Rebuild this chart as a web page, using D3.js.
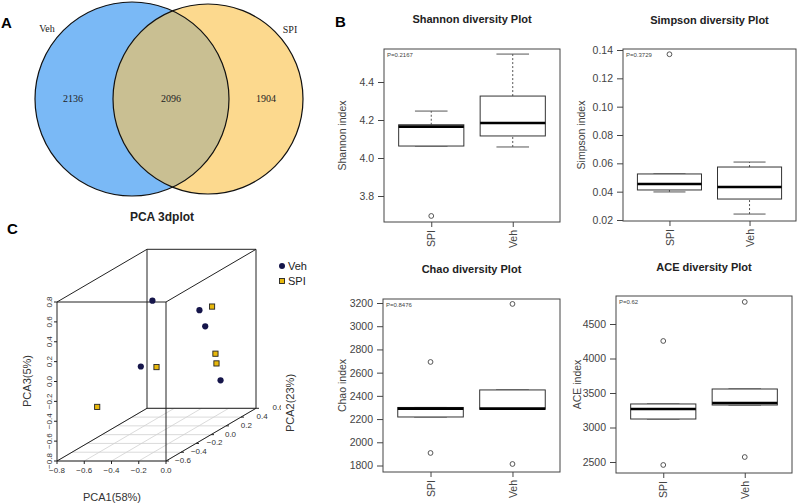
<!DOCTYPE html>
<html>
<head>
<meta charset="utf-8">
<title></title>
<script src="https://cdn.jsdelivr.net/npm/d3@7"></script>
<style>
body{margin:0;background:#fff;}
svg{display:block;font-family:"Liberation Sans",Arial,sans-serif;}
</style>
</head>
<body>
<svg id="svg1" width="797" height="503"></svg>
<script>
// venn
var vennNames=['Veh','SPI'];
var vennCounts=[2136,2096,1904];

// pca 3d (PCA1, PCA2, PCA3)
var vehPC1=[-0.54,-0.25,-0.18,-0.46,-0.15];
var vehPC2=[0.20,0.30,0.25,-0.10,0.40];
var vehPC3=[0.46,0.32,0.18,-0.07,-0.43];
var spiPC1=[-0.24,-0.16,-0.18,-0.40,-0.56];
var spiPC2=[0.45,0.35,0.40,0.00,-0.50];
var spiPC3=[0.29,-0.14,-0.26,-0.12,-0.30];
var pc1Ticks=[-0.8,-0.6,-0.4,-0.2,0.0];
var pc2Ticks=[-0.6,-0.4,-0.2,0.0,0.2,0.4,0.6];
var pc3Ticks=[-0.8,-0.6,-0.4,-0.2,0.0,0.2,0.4,0.6,0.8];

// boxplots: [lower whisker, q1, median, q3, upper whisker]
var groups=['SPI','Veh'];
var shannonBox=[[4.063,4.063,4.165,4.175,4.247],[4.058,4.116,4.184,4.326,4.547]];
var shannonOut=[[3.695],[]];
var shannonTicks=[3.8,4.0,4.2,4.4];
var simpsonBox=[[0.0398,0.0412,0.0454,0.0525,0.0525],[0.0242,0.0348,0.0433,0.0574,0.0609]];
var simpsonOut=[[0.137],[]];
var simpsonTicks=[0.02,0.04,0.06,0.08,0.10,0.12,0.14];
var chaoBox=[[2218,2218,2290,2300,2300],[2285,2285,2290,2451,2451]];
var chaoOut=[[2692,1908],[3192,1813]];
var chaoTicks=[1800,2000,2200,2400,2600,2800,3000,3200];
var aceBox=[[3123,3123,3268,3341,3341],[3326,3326,3355,3558,3558]];
var aceOut=[[4254,2457],[4820,2572]];
var aceTicks=[2500,3000,3500,4000,4500];
var pValues=['P=0.2167','P=0.3729','P=0.8476','P=0.62'];

var svg=d3.select('#svg1');

// panel letters
svg.append('text').attr('x',1).attr('y',28).text('A').attr('font-size',15).attr('font-weight','bold');
svg.append('text').attr('x',335).attr('y',27).text('B').attr('font-size',15).attr('font-weight','bold');
svg.append('text').attr('x',7).attr('y',234).text('C').attr('font-size',15).attr('font-weight','bold');

//1. venn
var vg=svg.append('g');
var c1={x:132,y:99,r:97}, c2={x:208,y:99,r:95};
vg.append('clipPath').attr('id','clipVeh').append('circle').attr('cx',c1.x).attr('cy',c1.y).attr('r',c1.r);
vg.append('circle').attr('cx',c1.x).attr('cy',c1.y).attr('r',c1.r).attr('fill','#7ab9f6');
vg.append('circle').attr('cx',c2.x).attr('cy',c2.y).attr('r',c2.r).attr('fill','#fcd98e');
vg.append('circle').attr('cx',c2.x).attr('cy',c2.y).attr('r',c2.r).attr('fill','#c9bf92').attr('clip-path','url(#clipVeh)');
[c1,c2].forEach(function(c){
  vg.append('circle').attr('cx',c.x).attr('cy',c.y).attr('r',c.r).attr('fill','none').attr('stroke','#111').attr('stroke-width',1.2);
});
var serif='"Liberation Serif","DejaVu Serif",serif';
vg.append('text').attr('x',47).attr('y',32).attr('text-anchor','middle').attr('font-family',serif).attr('font-size',10).attr('fill','#222').text(vennNames[0]);
vg.append('text').attr('x',290).attr('y',33).attr('text-anchor','middle').attr('font-family',serif).attr('font-size',10).attr('fill','#222').text(vennNames[1]);
var vennX=[73,171,266];
vennCounts.forEach(function(v,i){
  vg.append('text').attr('x',vennX[i]).attr('y',102).attr('text-anchor','middle').attr('font-family',serif).attr('font-size',10).attr('fill','#222').text(v);
});

//2. pca 3d
var pg=svg.append('g');
pg.append('text').attr('x',162).attr('y',221).attr('text-anchor','middle').attr('font-size',12).attr('font-weight','bold').attr('fill','#222').text('PCA 3dplot');

var x1=d3.scaleLinear().domain([-0.8,0]).range([57,166]);
var z3=d3.scaleLinear().domain([-0.8,0.8]).range([461,302]);
var dep=d3.scaleLinear().domain([-0.6,0.6]).range([0,1]);
var boxDX=90, boxDY=-52.7;
function proj(a,b,c){
  var t=dep(b);
  return [x1(a)+t*boxDX, z3(c)+t*boxDY];
}
function seg(g,p,q,col,w){
  g.append('line').attr('x1',p[0]).attr('y1',p[1]).attr('x2',q[0]).attr('y2',q[1])
  .attr('stroke',col).attr('stroke-width',w);
}
// floor grid
pc2Ticks.forEach(function(v){seg(pg,proj(-0.8,v,-0.8),proj(0,v,-0.8),'#d0d0d0',0.8);});
pc1Ticks.forEach(function(u){seg(pg,proj(u,-0.6,-0.8),proj(u,0.6,-0.8),'#d0d0d0',0.8);});
// box
var xs=[-0.8,0], ys=[-0.6,0.6], zs=[-0.8,0.8];
ys.forEach(function(b){
  seg(pg,proj(xs[0],b,zs[0]),proj(xs[1],b,zs[0]),'#222',1);
  seg(pg,proj(xs[0],b,zs[1]),proj(xs[1],b,zs[1]),'#222',1);
  seg(pg,proj(xs[0],b,zs[0]),proj(xs[0],b,zs[1]),'#222',1);
  seg(pg,proj(xs[1],b,zs[0]),proj(xs[1],b,zs[1]),'#222',1);
});
xs.forEach(function(a){zs.forEach(function(c){seg(pg,proj(a,ys[0],c),proj(a,ys[1],c),'#222',1);});});
// ticks
var tf=d3.format('.1f');
pc1Ticks.forEach(function(u){
  var p=proj(u,-0.6,-0.8);
  seg(pg,p,[p[0],p[1]+3],'#222',1);
  pg.append('text').attr('x',p[0]).attr('y',p[1]+12).attr('text-anchor','middle').attr('font-size',8).attr('fill','#333').text(tf(u));
});
pc3Ticks.forEach(function(c){
  var p=proj(-0.8,-0.6,c);
  seg(pg,p,[p[0]-3,p[1]],'#222',1);
  pg.append('text').attr('transform','translate('+(p[0]-5)+','+p[1]+') rotate(-90)')
  .attr('text-anchor','middle').attr('font-size',8).attr('fill','#333').text(tf(c));
});
pg.append('clipPath').attr('id','clipPc2').append('rect').attr('x',160).attr('y',380).attr('width',121).attr('height',100);
var pc2g=pg.append('g').attr('clip-path','url(#clipPc2)');
pc2Ticks.forEach(function(v){
  var p=proj(0,v,-0.8);
  seg(pc2g,p,[p[0]+3,p[1]],'#222',1);
  pc2g.append('text').attr('x',p[0]+17+dep(v)*5).attr('y',p[1]+2).attr('text-anchor','middle').attr('font-size',8).attr('fill','#333').text(tf(v));
});
pg.append('text').attr('x',112).attr('y',501).attr('text-anchor','middle').attr('font-size',11).attr('fill','#333').text('PCA1(58%)');
pg.append('text').attr('transform','translate(31,381) rotate(-90)').attr('text-anchor','middle').attr('font-size',11).attr('fill','#333').text('PCA3(5%)');
pg.append('text').attr('transform','translate(294,403) rotate(-90)').attr('text-anchor','middle').attr('font-size',11).attr('fill','#333').text('PCA2(23%)');
// points
vehPC1.forEach(function(a,i){
  var p=proj(a,vehPC2[i],vehPC3[i]);
  pg.append('circle').attr('cx',p[0]).attr('cy',p[1]).attr('r',3.1).attr('fill','#15154a');
});
spiPC1.forEach(function(a,i){
  var p=proj(a,spiPC2[i],spiPC3[i]);
  pg.append('rect').attr('x',p[0]-2.6).attr('y',p[1]-2.6).attr('width',5.2).attr('height',5.2)
  .attr('fill','#e8b80c').attr('stroke','#222').attr('stroke-width',0.9);
});
// legend
pg.append('circle').attr('cx',282).attr('cy',266).attr('r',3).attr('fill','#15154a');
pg.append('text').attr('x',288).attr('y',270).attr('font-size',11).attr('fill','#222').text('Veh');
pg.append('rect').attr('x',279.5).attr('y',278.5).attr('width',5).attr('height',5).attr('fill','#e8b80c').attr('stroke','#222').attr('stroke-width',0.9);
pg.append('text').attr('x',288).attr('y',285).attr('font-size',11).attr('fill','#222').text('SPI');

//3. boxplots
function boxPlot(o){
  var g=svg.append('g');
  var y=d3.scaleLinear().domain([o.ticks[0],o.ticks[o.ticks.length-1]]).range(o.tickPx);
  var x=d3.scaleLinear().domain([0.42,2.58]).range([o.left,o.right]);
  var hw=x(1.4)-x(1), cw=x(1.2)-x(1);

  g.append('text').attr('x',(o.left+o.right)/2).attr('y',o.titleY).attr('text-anchor','middle')
  .attr('font-size',11).attr('font-weight','bold').attr('fill','#222').text(o.title);

  var ay=g.append('g').attr('transform','translate('+o.left+',0)')
  .call(d3.axisLeft(y).tickValues(o.ticks).tickSize(6).tickPadding(4).tickFormat(o.fmt));
  ay.select('.domain').remove();
  ay.selectAll('line').attr('stroke','#444');
  ay.selectAll('text').attr('font-size',10.5).attr('fill','#444').attr('font-family',null);
  ay.attr('font-family',null);

  var ax=g.append('g').attr('transform','translate(0,'+o.bottom+')')
  .call(d3.axisBottom(x).tickValues([1,2]).tickSize(5).tickFormat(function(d){return groups[d-1];}));
  ax.select('.domain').remove();
  ax.attr('font-family',null);
  ax.selectAll('line').attr('stroke','#444');
  ax.selectAll('text').attr('font-size',10.5).attr('fill','#444').attr('font-family',null)
  .attr('y',0).attr('x',-8).attr('dy','0.35em').attr('transform','rotate(-90)').style('text-anchor','end');

  g.append('text').attr('transform','translate('+o.ylabX+','+((o.top+o.bottom)/2)+') rotate(-90)')
  .attr('text-anchor','middle').attr('font-size',10.5).attr('fill','#444').text(o.ylab);

  o.stats.forEach(function(s,i){
    var cx=x(i+1);
    // whiskers
    [[s[0],s[1]],[s[3],s[4]]].forEach(function(w){
      if(w[0]!==w[1]){
        g.append('line').attr('x1',cx).attr('x2',cx).attr('y1',y(w[0])).attr('y2',y(w[1]))
        .attr('stroke','#555').attr('stroke-dasharray','2,2');
      }
    });
    [s[0],s[4]].forEach(function(v){
      g.append('line').attr('x1',cx-cw).attr('x2',cx+cw).attr('y1',y(v)).attr('y2',y(v)).attr('stroke','#555');
    });
    g.append('rect').attr('x',cx-hw).attr('width',2*hw).attr('y',y(s[3])).attr('height',Math.max(0.5,y(s[1])-y(s[3])))
    .attr('fill','#fff').attr('stroke','#333').attr('stroke-width',1);
    g.append('line').attr('x1',cx-hw).attr('x2',cx+hw).attr('y1',y(s[2])).attr('y2',y(s[2]))
    .attr('stroke','#000').attr('stroke-width',2.6);
    o.outs[i].forEach(function(v){
      g.append('circle').attr('cx',cx).attr('cy',y(v)).attr('r',2.4).attr('fill','none').attr('stroke','#444').attr('stroke-width',0.9);
    });
  });

  g.append('rect').attr('x',o.left).attr('y',o.top).attr('width',o.right-o.left).attr('height',o.bottom-o.top)
  .attr('fill','none').attr('stroke','#444').attr('stroke-width',1);
  g.append('text').attr('x',o.left+3).attr('y',o.top+8).attr('font-size',6).attr('fill','#444').text(o.p);
}

boxPlot({left:384,right:560,top:49,bottom:222,ticks:shannonTicks,tickPx:[196,82],fmt:d3.format('.1f'),
  stats:shannonBox,outs:shannonOut,title:'Shannon diversity Plot',titleY:23,ylab:'Shannon index',ylabX:346,p:pValues[0]});
boxPlot({left:623,right:796,top:49,bottom:221,ticks:simpsonTicks,tickPx:[220,50],fmt:d3.format('.2f'),
  stats:simpsonBox,outs:simpsonOut,title:'Simpson diversity Plot',titleY:24,ylab:'Simpson index',ylabX:585,p:pValues[1]});
boxPlot({left:383,right:560,top:299,bottom:472,ticks:chaoTicks,tickPx:[465.5,303],fmt:d3.format('d'),
  stats:chaoBox,outs:chaoOut,title:'Chao diversity Plot',titleY:273,ylab:'Chao index',ylabX:346,p:pValues[2]});
boxPlot({left:616,right:792,top:296,bottom:473,ticks:aceTicks,tickPx:[462,324],fmt:d3.format('d'),
  stats:aceBox,outs:aceOut,title:'ACE diversity Plot',titleY:271,ylab:'ACE index',ylabX:581,p:pValues[3]});
</script>
</body>
</html>
